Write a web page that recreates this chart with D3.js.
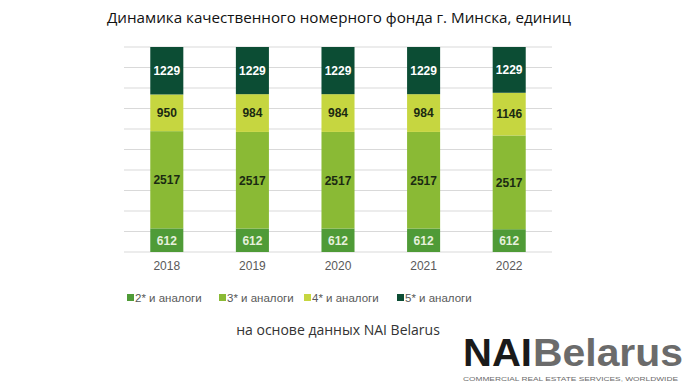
<!DOCTYPE html>
<html><head><meta charset="utf-8">
<script src="https://cdn.jsdelivr.net/npm/d3@7"></script>
<style>body{margin:0;background:#fff}svg{display:block}</style>
</head><body>
<script>
const years = ["2018","2019","2020","2021","2022"];
const seriesNames = ["2* и аналоги","3* и аналоги","4* и аналоги","5* и аналоги"];
const s2 = [612,612,612,612,612];
const s3 = [2517,2517,2517,2517,2517];
const s4 = [950,984,984,984,1146];
const s5 = [1229,1229,1229,1229,1229];
const colors = ["#4f9b37","#8aba35","#c6d640","#0c4d34"];
const labelColors = ["#e6f0dc","#1b2a12","#1b2a12","#ffffff"];
const gridTicks = [0,0.1,0.2,0.3,0.4,0.5,0.6,0.7,0.8,0.9,1];

const W=700,H=383;
const svg=d3.select("body").append("svg").attr("width",W).attr("height",H);

const rows = years.map((y,i)=>({year:y, s0:s2[i], s1:s3[i], s2:s4[i], s3:s5[i]}));
const keys=["s0","s1","s2","s3"];
const stacked=d3.stack().keys(keys).offset(d3.stackOffsetExpand)(rows);

const x=d3.scaleBand().domain(years).range([124,552]).paddingInner(0.614).paddingOuter(0.307);
const y=d3.scaleLinear().domain([0,1]).range([252,47]);

// gridlines
svg.append("g").selectAll("line").data(gridTicks).join("line")
  .attr("x1",124).attr("x2",552)
  .attr("y1",d=>y(d)).attr("y2",d=>y(d))
  .attr("stroke","#d9d9d9").attr("stroke-width",1);

// bars
const g=svg.append("g");
stacked.forEach((layer,li)=>{
  g.append("g").selectAll("rect").data(layer).join("rect")
    .attr("x",d=>x(d.data.year)).attr("width",x.bandwidth())
    .attr("y",d=>y(d[1])).attr("height",d=>y(d[0])-y(d[1]))
    .attr("fill",colors[li]);
  g.append("g").selectAll("text").data(layer).join("text")
    .attr("x",d=>x(d.data.year)+x.bandwidth()/2)
    .attr("y",d=>(y(d[0])+y(d[1]))/2)
    .attr("dy","0.36em").attr("text-anchor","middle")
    .attr("font-family","Liberation Sans, Arial, sans-serif")
    .attr("font-size",12).attr("font-weight","bold")
    .attr("fill",labelColors[li])
    .text(d=>d.data[keys[li]]);
});

// x axis labels
svg.append("g").selectAll("text").data(years).join("text")
  .attr("x",d=>x(d)+x.bandwidth()/2).attr("y",270)
  .attr("text-anchor","middle")
  .attr("font-family","Liberation Sans, Arial, sans-serif")
  .attr("font-size",12).attr("fill","#595959").text(d=>d);

// title
svg.append("text").attr("x",339).attr("y",23).attr("text-anchor","middle")
  .attr("font-family","Open Sans, sans-serif").attr("font-size",15.2).attr("fill","#111")
  .text("Динамика качественного номерного фонда г. Минска, единиц");

// legend
const legX=[127,219,304,397];
const lg=svg.append("g");
seriesNames.forEach((n,i)=>{
  lg.append("rect").attr("x",legX[i]).attr("y",294).attr("width",7).attr("height",7).attr("fill",colors[i]);
  lg.append("text").attr("x",legX[i]+8).attr("y",301.5)
    .attr("font-family","Liberation Sans, Arial, sans-serif").attr("font-size",11.5)
    .attr("fill","#595959").text(n);
});

// source
svg.append("text").attr("x",338).attr("y",335).attr("text-anchor","middle")
  .attr("font-family","Open Sans, sans-serif").attr("font-size",14).attr("fill","#333")
  .text("на основе данных NAI Belarus");

// logo
svg.append("text").attr("x",463).attr("y",366).attr("textLength",69).attr("lengthAdjust","spacingAndGlyphs")
  .attr("font-family","Liberation Sans, Arial, sans-serif").attr("font-size",39).attr("font-weight","bold")
  .attr("fill","#1a1a1a").text("NAI");
svg.append("text").attr("x",533).attr("y",366).attr("textLength",150).attr("lengthAdjust","spacingAndGlyphs")
  .attr("font-family","Liberation Sans, Arial, sans-serif").attr("font-size",39).attr("font-weight","bold")
  .attr("fill","#6b6b6b").text("Belarus");
svg.append("text").attr("x",463).attr("y",381).attr("textLength",215).attr("lengthAdjust","spacingAndGlyphs")
  .attr("font-family","Liberation Sans, Arial, sans-serif").attr("font-size",6)
  .attr("fill","#6b6b6b").text("COMMERCIAL REAL ESTATE SERVICES, WORLDWIDE");
</script>
</body></html>
